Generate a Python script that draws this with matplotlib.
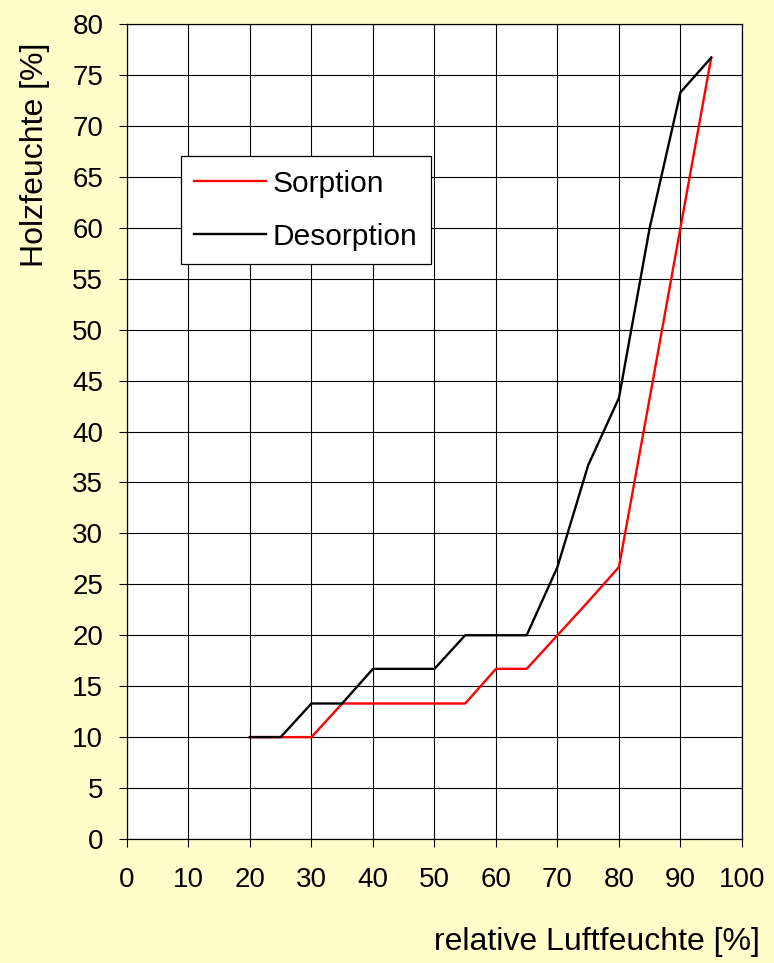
import matplotlib
matplotlib.use('Agg')
import matplotlib.pyplot as plt

plt.rcParams['font.family'] = ['Liberation Sans', 'DejaVu Sans']

# relative humidity [%] and wood moisture content [%]
luftfeuchte = [20, 25, 30, 35, 40, 45, 50, 55, 60, 65, 70, 75, 80, 85, 90, 95]
sorption = [10, 10, 10, 13.3, 13.3, 13.3, 13.3, 13.3, 16.7, 16.7, 20, 23.3, 26.7, 43.3, 60, 76.7]
desorption = [10, 10, 13.3, 13.3, 16.7, 16.7, 16.7, 20, 20, 20, 26.7, 36.7, 43.3, 60, 73.3, 76.7]

x_ticks = list(range(0, 101, 10))
y_ticks = list(range(0, 81, 5))

bg = '#FFFFCC'

fig = plt.figure(figsize=(7.74, 9.63), dpi=100, facecolor=bg)
ax = fig.add_axes([0.164, 0.1288, 0.7946, 0.8462])
ax.set_facecolor('white')

ax.plot(luftfeuchte, sorption, color='#FF0000', lw=1.7, label='Sorption', zorder=3)
ax.plot(luftfeuchte, desorption, color='black', lw=1.7, label='Desorption', zorder=3)

ax.set_xlim(0, 100)
ax.set_ylim(0, 80)
ax.set_xticks(x_ticks)
ax.set_yticks(y_ticks)
ax.grid(True, color='black', lw=0.8)
ax.set_axisbelow(True)
ax.tick_params(axis='both', direction='out', length=6, width=0.8, labelsize=20)
ax.tick_params(axis='x', pad=14)
ax.tick_params(axis='y', pad=11)
for s in ax.spines.values():
    s.set_linewidth(0.9)

ax.set_xlabel('relative Luftfeuchte [%]', fontsize=23, ha='right')
ax.xaxis.set_label_coords(1.029, -0.108)
ax.set_ylabel('Holzfeuchte [%]', fontsize=23, va='center')
ax.yaxis.set_label_coords(-0.150, 0.839)

leg = ax.legend(loc='upper left', bbox_to_anchor=(0.088, 0.838), borderaxespad=0,
                fontsize=21.5, frameon=True, fancybox=False, framealpha=1,
                edgecolor='black', handlelength=2.4, handletextpad=0.22,
                labelspacing=0.85, borderpad=0.45)
leg.get_frame().set_linewidth(0.9)

fig.savefig('out.png', dpi=100, facecolor=bg)
